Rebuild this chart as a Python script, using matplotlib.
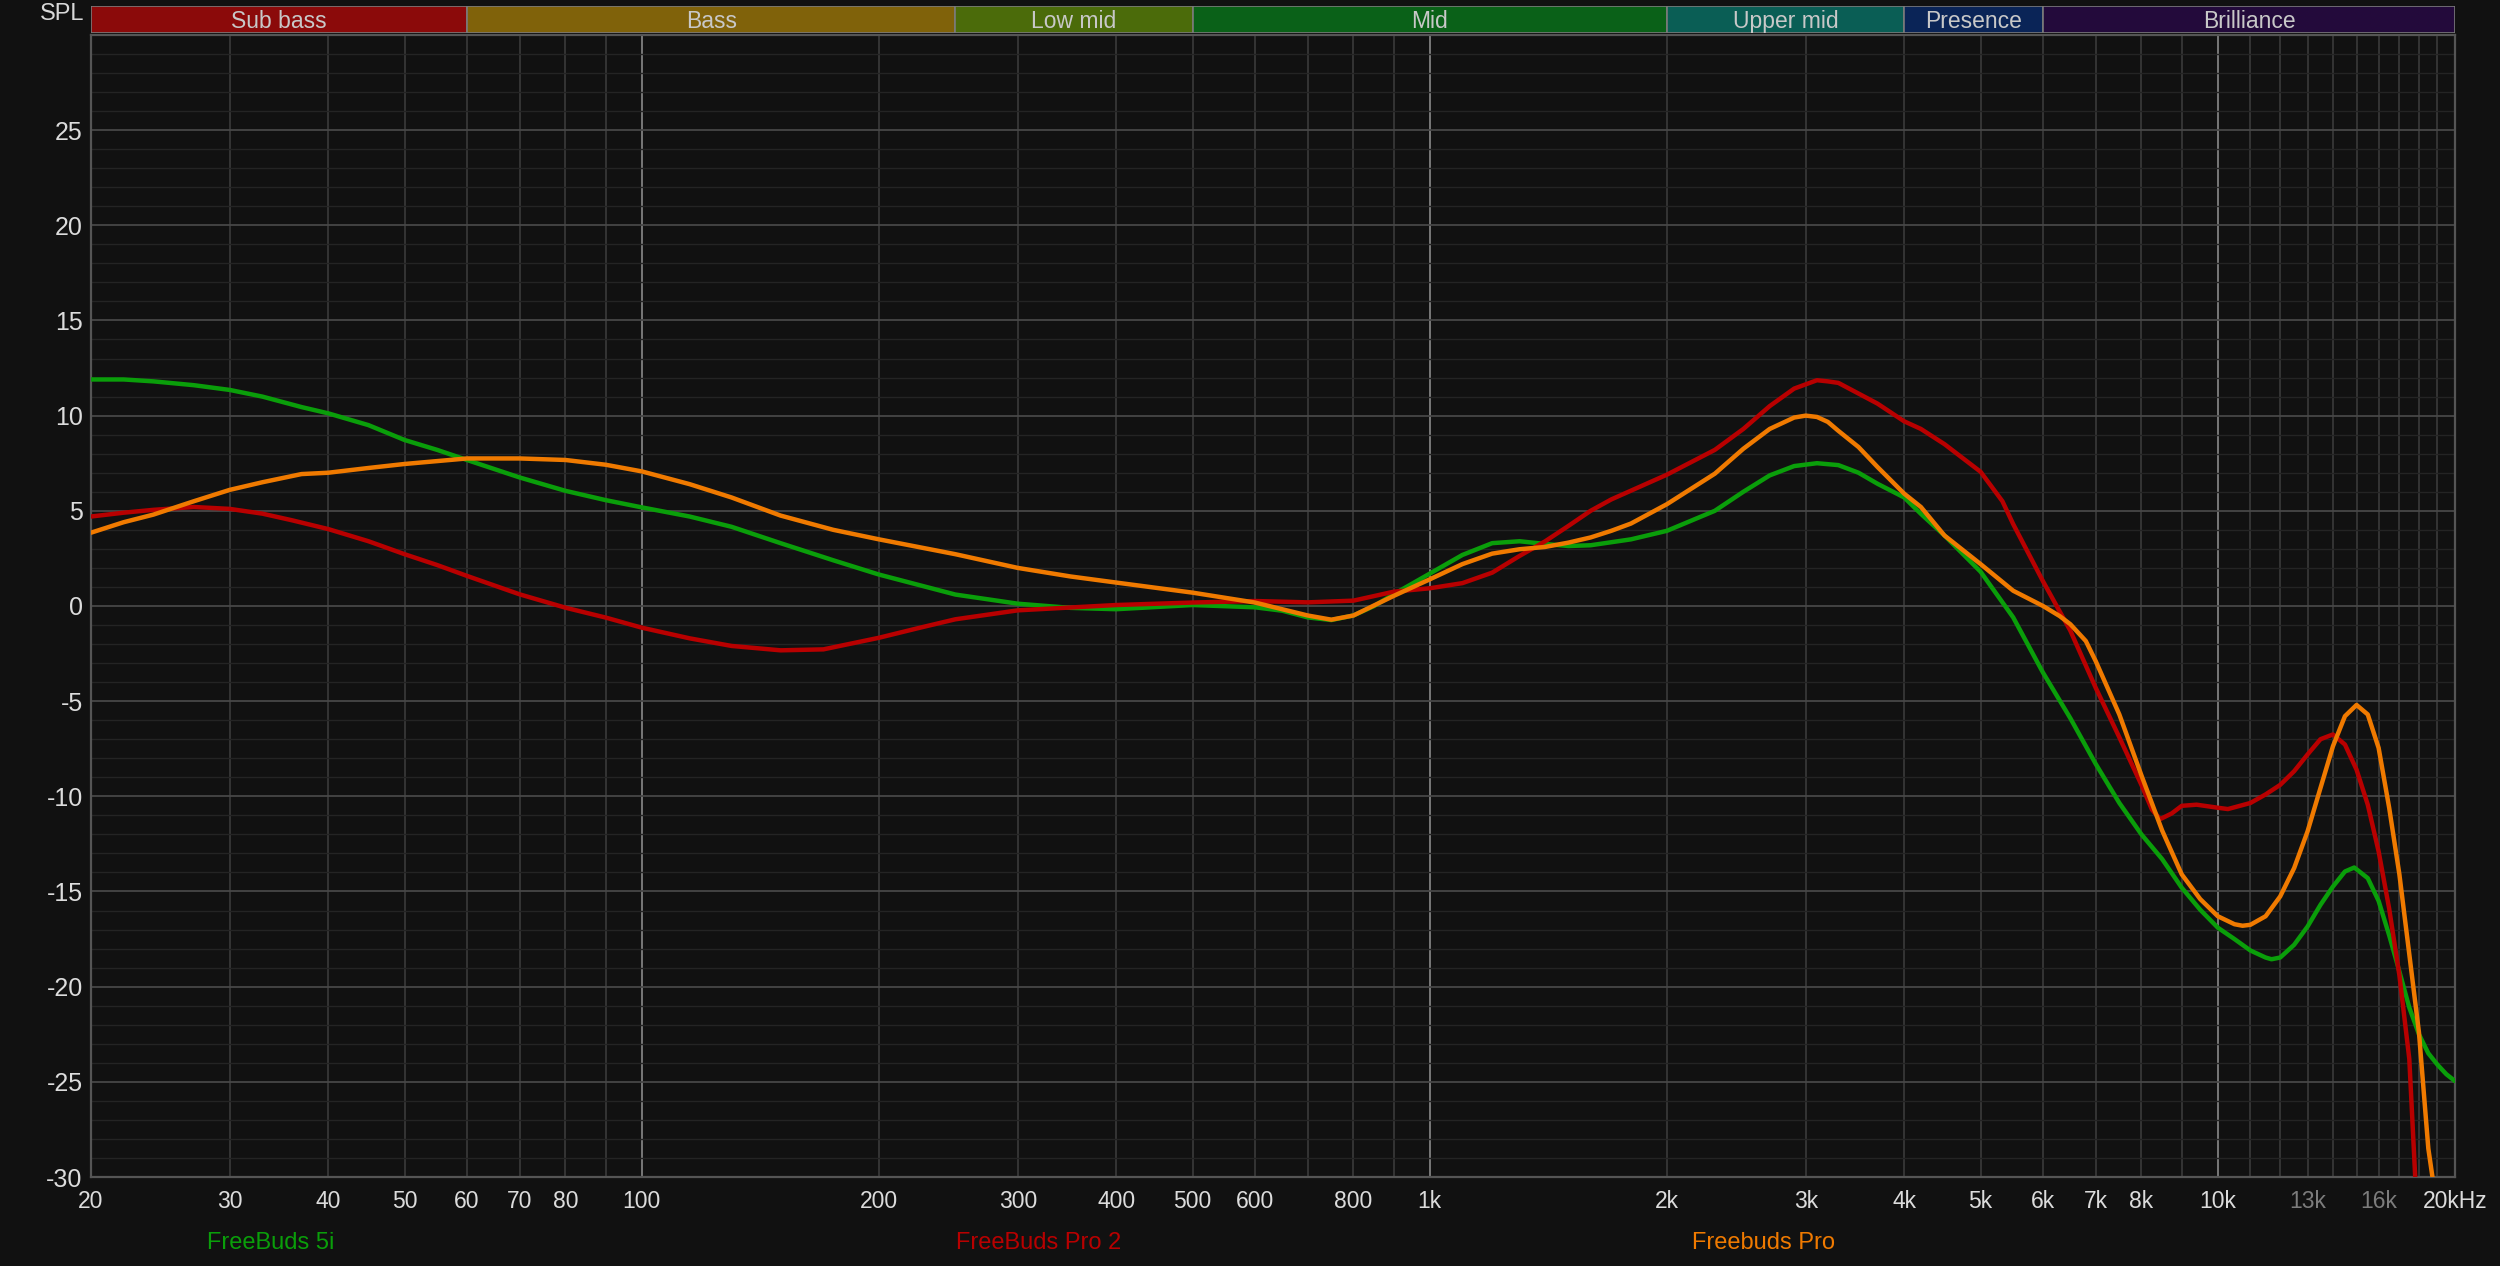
#
# Frequency response comparison - FreeBuds
#

import matplotlib
matplotlib.use('Agg')
import matplotlib.pyplot as plt

plt.rcParams['font.family'] = ['Liberation Sans', 'DejaVu Sans']
plt.rcParams['axes.unicode_minus'] = False

# measured curves (Hz, dB)
freq_5i = [20, 22, 24, 27, 30, 33, 37, 40, 45, 50, 55, 60, 70, 80, 90, 100, 115, 130, 150,
           175, 200, 250, 300, 350, 400, 500, 600, 650, 700, 750, 800, 850, 900, 1000,
           1100, 1200, 1300, 1400, 1500, 1600, 1700, 1800, 2000, 2300, 2500, 2700, 2900,
           3100, 3300, 3500, 3700, 4000, 4200, 4500, 5000, 5500, 6000, 6500, 7000, 7500,
           8000, 8500, 9000, 9500, 10000, 10500, 11000, 11500, 11700, 12000, 12500, 13000,
           13500, 14000, 14500, 14900, 15500, 16000, 16500, 17000, 17500, 18000, 18500,
           19000, 19500, 20000]
spl_5i = [11.9, 11.9, 11.8, 11.6, 11.35, 11.0, 10.45, 10.12, 9.5, 8.72, 8.2, 7.67, 6.75,
          6.05, 5.56, 5.18, 4.7, 4.16, 3.3, 2.4, 1.65, 0.6, 0.12, -0.1, -0.17, 0.05, -0.07,
          -0.25, -0.6, -0.74, -0.5, 0.0, 0.62, 1.7, 2.68, 3.3, 3.4, 3.26, 3.15, 3.19, 3.35,
          3.5, 3.95, 5.0, 6.0, 6.86, 7.35, 7.5, 7.4, 7.0, 6.42, 5.7, 4.84, 3.7, 1.8, -0.6,
          -3.5, -5.9, -8.3, -10.35, -12.0, -13.3, -14.8, -15.96, -16.9, -17.5, -18.1,
          -18.47, -18.56, -18.47, -17.8, -16.84, -15.7, -14.74, -13.95, -13.74, -14.3,
          -15.5, -17.3, -19.2, -21.1, -22.5, -23.5, -24.1, -24.6, -24.96]

freq_pro2 = [20, 22, 24, 27, 30, 33, 36, 40, 45, 50, 55, 60, 70, 80, 90, 100, 115, 130, 150,
             170, 200, 225, 250, 300, 400, 500, 600, 700, 800, 900, 1000, 1100, 1200, 1300,
             1400, 1500, 1600, 1700, 2000, 2300, 2500, 2700, 2900, 3100, 3200, 3300, 3500,
             3700, 4000, 4200, 4500, 5000, 5330, 5500, 6000, 6500, 7000, 7500, 8000, 8250,
             8450, 8740, 9000, 9400, 10000, 10300, 11000, 11500, 12000, 12500, 13000, 13500,
             14000, 14500, 15000, 15500, 16000, 16500, 17000, 17500, 17800, 18100]
spl_pro2 = [4.7, 4.9, 5.05, 5.2, 5.1, 4.85, 4.5, 4.04, 3.4, 2.72, 2.15, 1.58, 0.61, -0.09,
            -0.61, -1.14, -1.7, -2.1, -2.33, -2.28, -1.67, -1.15, -0.7, -0.23, 0.05, 0.18,
            0.26, 0.19, 0.28, 0.75, 0.93, 1.2, 1.75, 2.63, 3.39, 4.21, 5.0, 5.6, 6.9, 8.2,
            9.3, 10.5, 11.42, 11.86, 11.8, 11.72, 11.16, 10.63, 9.7, 9.3, 8.5, 7.05, 5.5,
            4.3, 1.3, -1.3, -4.3, -6.9, -9.4, -10.7, -11.2, -10.9, -10.5, -10.44, -10.6,
            -10.67, -10.35, -9.9, -9.4, -8.68, -7.8, -7.0, -6.75, -7.28, -8.6, -10.44,
            -12.9, -15.9, -19.4, -23.8, -29.9, -36.0]

freq_pro = [20, 22, 24, 27, 30, 33, 37, 40, 45, 50, 60, 70, 80, 90, 100, 115, 130, 150,
            175, 200, 250, 300, 350, 400, 500, 600, 700, 750, 800, 900, 1000, 1100, 1200,
            1300, 1400, 1500, 1600, 1700, 1800, 2000, 2300, 2500, 2700, 2900, 3000, 3100,
            3200, 3300, 3500, 3700, 4000, 4200, 4500, 5000, 5500, 6000, 6300, 6500, 6800,
            7000, 7500, 8000, 8500, 9000, 9500, 10000, 10500, 10750, 11000, 11500, 12000,
            12500, 13000, 13500, 14000, 14500, 15000, 15500, 16000, 16500, 17000, 17500,
            18000, 18500, 18800, 19200]
spl_pro = [3.85, 4.4, 4.8, 5.5, 6.1, 6.5, 6.93, 7.0, 7.25, 7.46, 7.75, 7.75, 7.67, 7.42,
           7.07, 6.4, 5.7, 4.75, 4.0, 3.5, 2.72, 2.0, 1.55, 1.23, 0.7, 0.18, -0.5, -0.72,
           -0.5, 0.53, 1.4, 2.2, 2.75, 2.98, 3.1, 3.33, 3.6, 3.95, 4.33, 5.35, 6.95, 8.26,
           9.3, 9.9, 10.0, 9.93, 9.67, 9.2, 8.35, 7.3, 5.9, 5.2, 3.7, 2.2, 0.8, 0.0, -0.53,
           -0.96, -1.84, -2.9, -5.7, -8.9, -11.8, -14.1, -15.4, -16.3, -16.72, -16.8,
           -16.75, -16.3, -15.26, -13.77, -11.84, -9.56, -7.37, -5.79, -5.2, -5.7, -7.46,
           -10.6, -14.1, -18.3, -22.4, -28.5, -30.5, -36.0]

series_names = ['FreeBuds 5i', 'FreeBuds Pro 2', 'Freebuds Pro']
series_colors = ['#0a9e0a', '#b80000', '#f07a00']

# frequency bands for the header
band_names = ['Sub bass', 'Bass', 'Low mid', 'Mid', 'Upper mid', 'Presence', 'Brilliance']
band_edges = [20, 60, 250, 500, 2000, 4000, 6000, 20000]
band_colors = ['#8b0a0a', '#80620a', '#4b6b0a', '#0a6118', '#0a5e55', '#0a2457', '#230a3b']

# x axis labels
xtick_vals = [20, 30, 40, 50, 60, 70, 80, 100, 200, 300, 400, 500, 600, 800, 1000, 2000,
              3000, 4000, 5000, 6000, 7000, 8000, 10000, 13000, 16000, 20000]
xtick_labels = ['20', '30', '40', '50', '60', '70', '80', '100', '200', '300', '400', '500',
                '600', '800', '1k', '2k', '3k', '4k', '5k', '6k', '7k', '8k', '10k', '13k',
                '16k', '20kHz']
dim_labels = ['13k', '16k']

# vertical grid lines
xgrid = ([30, 40, 50, 60, 70, 80, 90] + [200, 300, 400, 500, 600, 700, 800, 900]
         + [2000, 3000, 4000, 5000, 6000, 7000, 8000, 9000]
         + [11000, 12000, 13000, 14000, 15000, 16000, 17000, 18000, 19000])
xgrid_bright = [100, 1000, 10000]

bg = '#111111'
fig = plt.figure(figsize=(25, 12.66), dpi=100, facecolor=bg)

# main plot
ax = fig.add_axes([0.0364, 0.0703, 0.9456, 0.9021], facecolor=bg)
ax.set_xscale('log')
ax.set_xlim(20, 20000)
ax.set_ylim(-30, 30)

ax.set_yticks(range(-30, 30, 5))
ax.set_yticks(range(-30, 30, 1), minor=True)
ax.grid(which='minor', axis='y', color='#242424', lw=1.0)
ax.grid(which='major', axis='y', color='#474747', lw=1.3)
for f in xgrid:
    ax.axvline(f, color='#3a3a3a', lw=1.2, zorder=0.5)
for f in xgrid_bright:
    ax.axvline(f, color='#8a8a8a', lw=1.2, zorder=0.5)
ax.set_axisbelow(True)

ax.set_xticks(xtick_vals)
ax.set_xticklabels(xtick_labels)
ax.xaxis.set_minor_locator(matplotlib.ticker.NullLocator())
ax.tick_params(axis='x', length=0, pad=9, labelsize=16.5, labelcolor='#dcdcdc')
ax.tick_params(axis='y', which='both', length=0, pad=6, labelsize=18, labelcolor='#dcdcdc')
for lbl in ax.get_xticklabels():
    if lbl.get_text() in dim_labels:
        lbl.set_color('#7c7c7c')

for s in ax.spines.values():
    s.set_color('#555555')
    s.set_linewidth(1.6)

# curves
for fr, db, c in zip([freq_5i, freq_pro2, freq_pro], [spl_5i, spl_pro2, spl_pro], series_colors):
    ax.plot(fr, db, color=c, lw=3.2, solid_capstyle='round', solid_joinstyle='round', zorder=3)

# band header
hb = fig.add_axes([0.0364, 0.9743, 0.9456, 0.0209], facecolor=bg)
hb.set_xscale('log')
hb.set_xlim(20, 20000)
hb.set_ylim(0, 1)
hb.axis('off')
for i, name in enumerate(band_names):
    lo, hi = band_edges[i], band_edges[i + 1]
    hb.axvspan(lo, hi, 0, 1, facecolor=band_colors[i], edgecolor='#7a7a7a', lw=1.2)
    hb.text((lo * hi) ** 0.5, 0.42, name, ha='center', va='center',
            fontsize=16.5, color='#c8c8c8')

fig.text(0.0336, 0.9893, 'SPL', ha='right', va='center', fontsize=17, color='#d8d8d8')

# legend names below the axis
for name, c, xpos in zip(series_names, series_colors, [0.1084, 0.4156, 0.7052]):
    fig.text(xpos, 0.0182, name, ha='center', va='center', fontsize=17, color=c)

fig.savefig('out.png', dpi=100, facecolor=bg)
